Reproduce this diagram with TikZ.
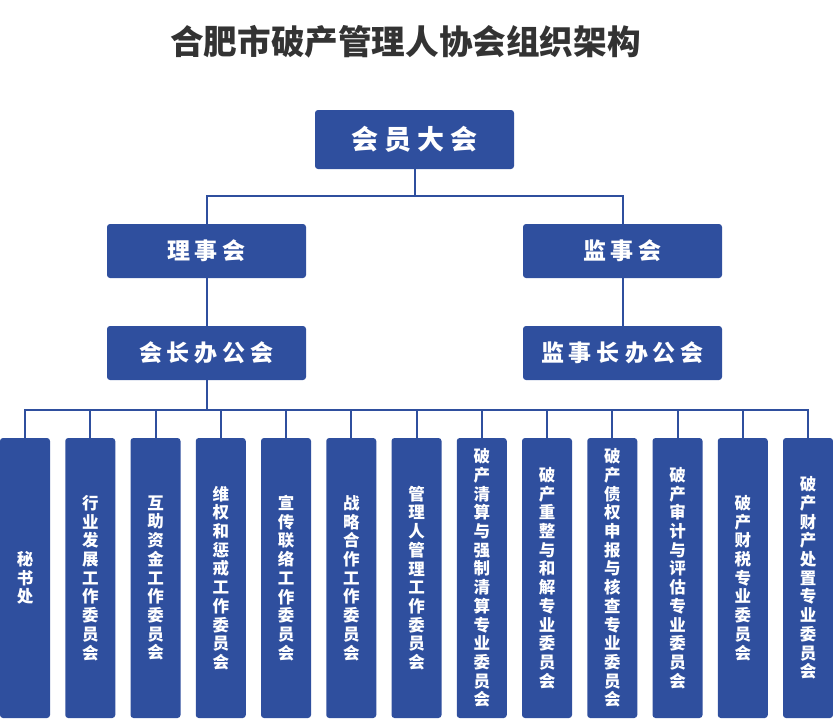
\documentclass[tikz,border=0pt]{standalone}
\usepackage{fontspec}
\setmainfont{Noto Sans CJK SC}
\definecolor{boxblue}{RGB}{47,79,158}
\definecolor{titlegray}{RGB}{51,51,51}
\begin{document}
\begin{tikzpicture}[x=1pt,y=-1pt,
  box/.style={fill=boxblue,rounded corners=3pt,text=white,inner sep=0pt,align=center},
  topbox/.style={box,minimum width=199pt,minimum height=59pt,font=\bfseries\fontsize{27}{30}\selectfont},
  midbox/.style={box,minimum width=199pt,minimum height=54pt,font=\bfseries\fontsize{23}{26}\selectfont},
  colbox/.style={box,minimum width=50pt,minimum height=280pt,font=\bfseries\fontsize{16.5}{18.7}\selectfont},
  conn/.style={draw=boxblue,line width=2pt}]
\useasboundingbox (0,0) rectangle (833,718);
\node[font=\bfseries\fontsize{33.6}{36}\selectfont,text=titlegray] (title) at (405.5,42) {合肥市破产管理人协会组织架构};
\node[topbox] (hy) at (414.5,139.5) {会\hspace{6pt}员\hspace{6pt}大\hspace{6pt}会};
\node[midbox] (lsh) at (206.5,251) {理\hspace{5pt}事\hspace{5pt}会};
\node[midbox] (jsh) at (622.5,251) {监\hspace{5pt}事\hspace{5pt}会};
\node[midbox] (hzb) at (206.5,353) {会\hspace{5pt}长\hspace{5pt}办\hspace{5pt}公\hspace{5pt}会};
\node[midbox] (jzb) at (622.5,353) {监\hspace{5pt}事\hspace{5pt}长\hspace{5pt}办\hspace{5pt}公\hspace{5pt}会};
\coordinate (b1) at (0,196);
\coordinate (b2) at (0,409.5);
\node[colbox] (c1) at (25,578) {秘\\书\\处};
\node[colbox] (c2) at (90.25,578) {行\\业\\发\\展\\工\\作\\委\\员\\会};
\node[colbox] (c3) at (155.5,578) {互\\助\\资\\金\\工\\作\\委\\员\\会};
\node[colbox] (c4) at (220.75,578) {维\\权\\和\\惩\\戒\\工\\作\\委\\员\\会};
\node[colbox] (c5) at (286,578) {宣\\传\\联\\络\\工\\作\\委\\员\\会};
\node[colbox] (c6) at (351.25,578) {战\\略\\合\\作\\工\\作\\委\\员\\会};
\node[colbox] (c7) at (416.5,578) {管\\理\\人\\管\\理\\工\\作\\委\\员\\会};
\node[colbox] (c8) at (481.75,578) {破\\产\\清\\算\\与\\强\\制\\清\\算\\专\\业\\委\\员\\会};
\node[colbox] (c9) at (547,578) {破\\产\\重\\整\\与\\和\\解\\专\\业\\委\\员\\会};
\node[colbox] (c10) at (612.25,578) {破\\产\\债\\权\\申\\报\\与\\核\\查\\专\\业\\委\\员\\会};
\node[colbox] (c11) at (677.5,578) {破\\产\\审\\计\\与\\评\\估\\专\\业\\委\\员\\会};
\node[colbox] (c12) at (742.75,578) {破\\产\\财\\税\\专\\业\\委\\员\\会};
\node[colbox] (c13) at (808,578) {破\\产\\财\\产\\处\\置\\专\\业\\委\\员\\会};
\draw[conn] (hy.south) -- (hy.south |- b1);
\draw[conn] (lsh.north) -- (lsh.north |- b1) -- (jsh.north |- b1) -- (jsh.north);
\draw[conn] (lsh) -- (hzb);
\draw[conn] (jsh) -- (jzb);
\draw[conn] (hzb.south) -- (hzb.south |- b2);
\draw[conn] (c1.north) -- (c1.north |- b2) -- (c13.north |- b2) -- (c13.north);
\foreach \i in {2,...,12} {\draw[conn] (c\i.north) -- (c\i.north |- b2);}
\end{tikzpicture}
\end{document}
